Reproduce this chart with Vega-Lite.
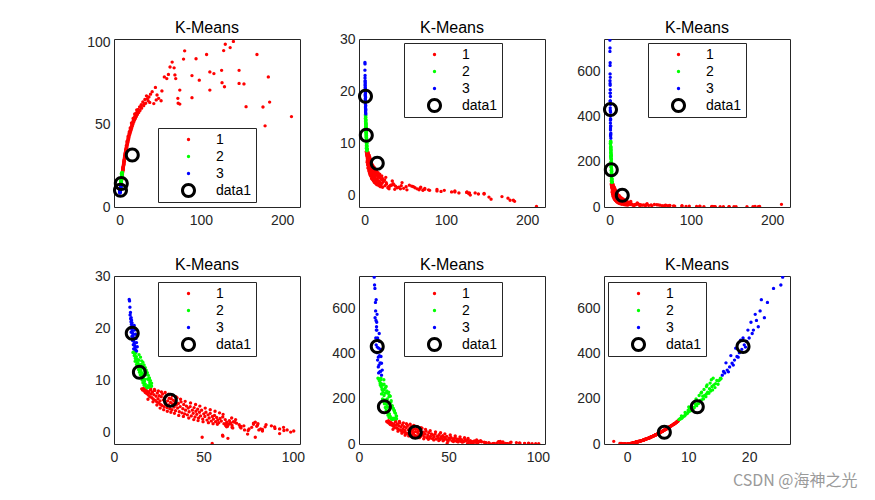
{
"$schema":"https://vega.github.io/schema/vega-lite/v6.json",
"padding":{"left":86,"top":19,"right":5,"bottom":5},
"background":"white",
"bounds":"flush",
"columns":3,
"spacing":{"row":69,"column":59},
"title":{"text":"CSDN @海神之光","orient":"bottom","anchor":"end","color":"#9a9a9a","fontSize":16,"font":"Noto Sans CJK SC","fontWeight":"normal","offset":8,"dx":67},
"config":{
 "font":"Liberation Sans",
 "view":{"stroke":"#262626","strokeWidth":1},
 "axis":{"grid":false,"ticks":false,"domain":false,"labelFontSize":14,"labelFont":"Liberation Sans","labelColor":"#262626","labelFlush":false,"labelOverlap":false},
 "axisX":{"labelPadding":6},
 "axisY":{"labelPadding":4},
 "title":{"fontSize":16,"fontWeight":"normal","color":"#000000","offset":3,"font":"Liberation Sans"},
 "legend":{"orient":"none","strokeColor":"#262626","fillColor":"#ffffff","padding":4,"labelFontSize":14,"labelFont":"Liberation Sans","labelColor":"#000000","rowPadding":2,"symbolSize":225,"symbolOffset":19,"labelOffset":20,"symbolStrokeWidth":0,"cornerRadius":0}
},
"datasets":{
"cen":[{"x":15.5,"y":31.5,"z":6.1,"w":52},{"x":2.0,"y":14.2,"z":11.5,"w":165},{"x":1.0,"y":10.2,"z":19.0,"w":432}],
"pts":[
{"x":2.0,"y":15.5,"z":8.3,"w":100,"c":"1"},
{"x":2.3,"y":16.0,"z":8.1,"w":96,"c":"1"},
{"x":2.1,"y":16.5,"z":8.4,"w":104,"c":"1"},
{"x":2.6,"y":16.8,"z":7.9,"w":92,"c":"1"},
{"x":2.4,"y":17.2,"z":8.2,"w":99,"c":"1"},
{"x":2.8,"y":17.5,"z":7.6,"w":86,"c":"1"},
{"x":2.5,"y":18.0,"z":8.0,"w":95,"c":"1"},
{"x":3.0,"y":18.3,"z":7.4,"w":84,"c":"1"},
{"x":2.7,"y":18.8,"z":7.8,"w":90,"c":"1"},
{"x":3.2,"y":19.2,"z":7.1,"w":79,"c":"1"},
{"x":2.9,"y":19.6,"z":7.6,"w":87,"c":"1"},
{"x":3.4,"y":20.0,"z":6.8,"w":73,"c":"1"},
{"x":3.1,"y":20.4,"z":8.1,"w":98,"c":"1"},
{"x":3.6,"y":20.8,"z":7.3,"w":83,"c":"1"},
{"x":3.3,"y":21.2,"z":6.6,"w":70,"c":"1"},
{"x":3.8,"y":21.5,"z":7.7,"w":89,"c":"1"},
{"x":3.5,"y":22.0,"z":6.3,"w":65,"c":"1"},
{"x":4.0,"y":22.3,"z":7.2,"w":80,"c":"1"},
{"x":3.7,"y":22.8,"z":8.0,"w":94,"c":"1"},
{"x":4.2,"y":23.1,"z":6.1,"w":62,"c":"1"},
{"x":3.9,"y":23.5,"z":6.9,"w":76,"c":"1"},
{"x":4.5,"y":23.9,"z":5.8,"w":57,"c":"1"},
{"x":4.1,"y":24.2,"z":7.5,"w":85,"c":"1"},
{"x":4.7,"y":24.6,"z":6.4,"w":66,"c":"1"},
{"x":4.4,"y":25.0,"z":5.6,"w":54,"c":"1"},
{"x":4.9,"y":25.3,"z":7.0,"w":77,"c":"1"},
{"x":4.6,"y":25.7,"z":6.0,"w":60,"c":"1"},
{"x":5.1,"y":26.0,"z":5.3,"w":50,"c":"1"},
{"x":4.8,"y":26.4,"z":6.8,"w":73,"c":"1"},
{"x":5.3,"y":26.8,"z":5.1,"w":47,"c":"1"},
{"x":5.0,"y":27.2,"z":7.3,"w":82,"c":"1"},
{"x":5.6,"y":27.6,"z":6.2,"w":63,"c":"1"},
{"x":5.2,"y":28.0,"z":4.9,"w":44,"c":"1"},
{"x":5.8,"y":28.4,"z":6.6,"w":70,"c":"1"},
{"x":5.5,"y":28.8,"z":5.6,"w":54,"c":"1"},
{"x":6.1,"y":29.2,"z":7.0,"w":77,"c":"1"},
{"x":5.7,"y":29.6,"z":4.7,"w":41,"c":"1"},
{"x":6.3,"y":30.0,"z":6.0,"w":60,"c":"1"},
{"x":6.0,"y":30.4,"z":5.2,"w":48,"c":"1"},
{"x":6.6,"y":30.8,"z":6.5,"w":68,"c":"1"},
{"x":6.2,"y":31.2,"z":4.5,"w":38,"c":"1"},
{"x":6.9,"y":31.6,"z":5.7,"w":55,"c":"1"},
{"x":6.5,"y":32.0,"z":6.4,"w":66,"c":"1"},
{"x":7.2,"y":32.4,"z":4.3,"w":36,"c":"1"},
{"x":6.8,"y":32.8,"z":5.4,"w":51,"c":"1"},
{"x":7.5,"y":33.2,"z":6.1,"w":62,"c":"1"},
{"x":7.1,"y":33.6,"z":4.8,"w":42,"c":"1"},
{"x":7.8,"y":34.0,"z":5.9,"w":59,"c":"1"},
{"x":7.4,"y":34.4,"z":4.1,"w":33,"c":"1"},
{"x":8.1,"y":34.8,"z":5.2,"w":48,"c":"1"},
{"x":7.7,"y":35.2,"z":6.6,"w":70,"c":"1"},
{"x":8.4,"y":35.6,"z":4.6,"w":40,"c":"1"},
{"x":8.0,"y":36.0,"z":5.5,"w":52,"c":"1"},
{"x":8.8,"y":36.5,"z":3.9,"w":31,"c":"1"},
{"x":8.4,"y":37.0,"z":4.9,"w":44,"c":"1"},
{"x":9.3,"y":37.5,"z":5.8,"w":57,"c":"1"},
{"x":8.9,"y":38.0,"z":3.7,"w":28,"c":"1"},
{"x":9.7,"y":38.5,"z":4.5,"w":38,"c":"1"},
{"x":9.2,"y":39.0,"z":5.3,"w":50,"c":"1"},
{"x":10.2,"y":39.5,"z":3.5,"w":26,"c":"1"},
{"x":9.6,"y":40.0,"z":4.2,"w":34,"c":"1"},
{"x":10.6,"y":40.5,"z":5.0,"w":45,"c":"1"},
{"x":10.0,"y":41.0,"z":3.3,"w":24,"c":"1"},
{"x":11.1,"y":41.5,"z":4.6,"w":39,"c":"1"},
{"x":10.5,"y":42.0,"z":3.9,"w":31,"c":"1"},
{"x":11.6,"y":42.6,"z":4.9,"w":44,"c":"1"},
{"x":11.0,"y":43.2,"z":3.1,"w":22,"c":"1"},
{"x":12.2,"y":43.8,"z":4.2,"w":34,"c":"1"},
{"x":11.5,"y":44.3,"z":3.6,"w":27,"c":"1"},
{"x":12.8,"y":44.8,"z":4.7,"w":41,"c":"1"},
{"x":12.1,"y":45.3,"z":2.9,"w":20,"c":"1"},
{"x":13.4,"y":45.8,"z":4.0,"w":32,"c":"1"},
{"x":12.7,"y":46.3,"z":3.4,"w":25,"c":"1"},
{"x":14.0,"y":46.8,"z":4.4,"w":37,"c":"1"},
{"x":13.3,"y":47.3,"z":2.7,"w":18,"c":"1"},
{"x":14.7,"y":47.8,"z":3.8,"w":29,"c":"1"},
{"x":14.0,"y":48.4,"z":3.1,"w":22,"c":"1"},
{"x":15.5,"y":49.0,"z":4.2,"w":34,"c":"1"},
{"x":14.8,"y":49.6,"z":2.5,"w":16,"c":"1"},
{"x":16.3,"y":50.2,"z":3.5,"w":26,"c":"1"},
{"x":15.5,"y":50.8,"z":3.0,"w":21,"c":"1"},
{"x":17.2,"y":51.4,"z":3.8,"w":29,"c":"1"},
{"x":16.3,"y":52.0,"z":2.3,"w":14,"c":"1"},
{"x":18.2,"y":52.6,"z":3.3,"w":24,"c":"1"},
{"x":17.1,"y":53.2,"z":2.7,"w":18,"c":"1"},
{"x":19.3,"y":53.8,"z":3.6,"w":27,"c":"1"},
{"x":18.0,"y":54.4,"z":2.1,"w":13,"c":"1"},
{"x":20.5,"y":55.0,"z":3.0,"w":21,"c":"1"},
{"x":19.0,"y":55.6,"z":2.5,"w":16,"c":"1"},
{"x":21.8,"y":56.2,"z":3.2,"w":23,"c":"1"},
{"x":20.2,"y":56.8,"z":2.0,"w":12,"c":"1"},
{"x":23.4,"y":57.4,"z":2.8,"w":19,"c":"1"},
{"x":21.5,"y":58.0,"z":2.3,"w":14,"c":"1"},
{"x":25.0,"y":58.6,"z":1.8,"w":11,"c":"1"},
{"x":23.0,"y":59.3,"z":2.6,"w":17,"c":"1"},
{"x":27.0,"y":60.0,"z":2.1,"w":13,"c":"1"},
{"x":24.5,"y":60.8,"z":2.9,"w":20,"c":"1"},
{"x":29.5,"y":61.5,"z":1.6,"w":9,"c":"1"},
{"x":26.5,"y":62.2,"z":2.4,"w":15,"c":"1"},
{"x":32.0,"y":63.0,"z":1.9,"w":11,"c":"1"},
{"x":28.5,"y":63.8,"z":1.4,"w":8,"c":"1"},
{"x":35.0,"y":64.5,"z":2.2,"w":14,"c":"1"},
{"x":31.0,"y":65.3,"z":1.7,"w":10,"c":"1"},
{"x":42.0,"y":62.8,"z":1.5,"w":9,"c":"1"},
{"x":45.0,"y":65.0,"z":1.8,"w":10,"c":"1"},
{"x":48.0,"y":66.0,"z":1.3,"w":7,"c":"1"},
{"x":51.0,"y":64.5,"z":1.6,"w":9,"c":"1"},
{"x":44.0,"y":72.6,"z":1.2,"w":6,"c":"1"},
{"x":38.0,"y":68.5,"z":1.7,"w":10,"c":"1"},
{"x":36.0,"y":66.8,"z":2.0,"w":12,"c":"1"},
{"x":40.0,"y":70.0,"z":1.4,"w":8,"c":"1"},
{"x":33.0,"y":67.5,"z":1.9,"w":11,"c":"1"},
{"x":72.0,"y":63.0,"z":1.0,"w":5,"c":"1"},
{"x":74.0,"y":62.5,"z":1.3,"w":7,"c":"1"},
{"x":71.6,"y":66.0,"z":0.9,"w":5,"c":"1"},
{"x":74.0,"y":71.0,"z":1.1,"w":6,"c":"1"},
{"x":89.0,"y":66.4,"z":0.8,"w":4,"c":"1"},
{"x":140,"y":100.5,"z":0.2,"w":1,"c":"1"},
{"x":130,"y":98.8,"z":0.0,"w":1,"c":"1"},
{"x":136,"y":96.8,"z":0.4,"w":2,"c":"1"},
{"x":128,"y":95.0,"z":0.3,"w":1,"c":"1"},
{"x":80,"y":94.8,"z":0.9,"w":4,"c":"1"},
{"x":107,"y":92.6,"z":0.6,"w":3,"c":"1"},
{"x":169,"y":92.6,"z":-0.3,"w":1,"c":"1"},
{"x":78.6,"y":89.8,"z":1.0,"w":5,"c":"1"},
{"x":94,"y":90,"z":0.7,"w":3,"c":"1"},
{"x":64.6,"y":88,"z":1.2,"w":6,"c":"1"},
{"x":62,"y":85,"z":1.4,"w":8,"c":"1"},
{"x":67,"y":84.5,"z":1.0,"w":5,"c":"1"},
{"x":60,"y":80.5,"z":1.6,"w":9,"c":"1"},
{"x":68,"y":80.2,"z":1.3,"w":7,"c":"1"},
{"x":125.5,"y":83,"z":0.5,"w":2,"c":"1"},
{"x":147,"y":83,"z":0.2,"w":1,"c":"1"},
{"x":111,"y":82,"z":0.6,"w":3,"c":"1"},
{"x":116,"y":81,"z":0.4,"w":2,"c":"1"},
{"x":183,"y":79,"z":-1.0,"w":2,"c":"1"},
{"x":89,"y":79.8,"z":1.1,"w":6,"c":"1"},
{"x":98,"y":77,"z":0.9,"w":4,"c":"1"},
{"x":69,"y":78,"z":1.5,"w":8,"c":"1"},
{"x":55,"y":79,"z":1.9,"w":11,"c":"1"},
{"x":58,"y":78,"z":1.7,"w":10,"c":"1"},
{"x":147,"y":75,"z":0.3,"w":1,"c":"1"},
{"x":126,"y":75.5,"z":0.6,"w":3,"c":"1"},
{"x":129,"y":73,"z":0.4,"w":2,"c":"1"},
{"x":153,"y":74.7,"z":-0.4,"w":1,"c":"1"},
{"x":111,"y":71,"z":0.8,"w":4,"c":"1"},
{"x":211.5,"y":54.9,"z":-2.2,"w":12,"c":"1"},
{"x":179,"y":49.3,"z":-1.0,"w":3,"c":"1"},
{"x":176.4,"y":60.7,"z":-0.6,"w":1,"c":"1"},
{"x":155.6,"y":60.9,"z":-0.8,"w":2,"c":"1"},
{"x":184.6,"y":63.7,"z":-1.2,"w":3,"c":"1"},
{"x":3.0,"y":19.0,"z":6.3,"w":65,"c":"1"},
{"x":3.3,"y":20.5,"z":8.3,"w":102,"c":"1"},
{"x":3.6,"y":21.8,"z":5.8,"w":57,"c":"1"},
{"x":4.3,"y":22.6,"z":8.2,"w":100,"c":"1"},
{"x":4.0,"y":24.0,"z":5.2,"w":48,"c":"1"},
{"x":4.6,"y":24.8,"z":7.9,"w":94,"c":"1"},
{"x":5.2,"y":25.8,"z":4.6,"w":39,"c":"1"},
{"x":5.0,"y":26.5,"z":7.7,"w":90,"c":"1"},
{"x":5.9,"y":27.8,"z":4.3,"w":36,"c":"1"},
{"x":5.6,"y":28.6,"z":7.6,"w":88,"c":"1"},
{"x":6.4,"y":29.8,"z":4.0,"w":32,"c":"1"},
{"x":6.2,"y":30.6,"z":7.3,"w":82,"c":"1"},
{"x":7.0,"y":31.8,"z":3.8,"w":30,"c":"1"},
{"x":6.8,"y":32.6,"z":7.0,"w":77,"c":"1"},
{"x":7.6,"y":33.8,"z":3.6,"w":28,"c":"1"},
{"x":7.4,"y":34.6,"z":6.8,"w":73,"c":"1"},
{"x":8.5,"y":36.2,"z":3.2,"w":23,"c":"1"},
{"x":8.2,"y":37.2,"z":6.3,"w":65,"c":"1"},
{"x":9.5,"y":38.8,"z":3.0,"w":21,"c":"1"},
{"x":9.0,"y":39.8,"z":5.9,"w":59,"c":"1"},
{"x":10.8,"y":41.8,"z":2.7,"w":18,"c":"1"},
{"x":10.3,"y":42.8,"z":5.6,"w":54,"c":"1"},
{"x":12.0,"y":44.6,"z":2.4,"w":15,"c":"1"},
{"x":11.8,"y":45.6,"z":5.3,"w":50,"c":"1"},
{"x":13.6,"y":47.0,"z":2.2,"w":14,"c":"1"},
{"x":13.0,"y":48.0,"z":5.0,"w":45,"c":"1"},
{"x":15.0,"y":49.8,"z":2.0,"w":12,"c":"1"},
{"x":14.5,"y":51.0,"z":4.6,"w":40,"c":"1"},
{"x":17.5,"y":52.8,"z":1.8,"w":11,"c":"1"},
{"x":16.5,"y":53.8,"z":4.3,"w":36,"c":"1"},
{"x":19.5,"y":55.4,"z":1.6,"w":9,"c":"1"},
{"x":18.5,"y":56.5,"z":4.0,"w":32,"c":"1"},
{"x":22.0,"y":57.8,"z":1.5,"w":8,"c":"1"},
{"x":21.0,"y":59.0,"z":3.7,"w":28,"c":"1"},
{"x":26.0,"y":61.0,"z":3.4,"w":25,"c":"1"},
{"x":30.0,"y":62.6,"z":1.2,"w":6,"c":"1"},
{"x":34.0,"y":65.8,"z":2.7,"w":18,"c":"1"},
{"x":37.0,"y":63.5,"z":1.1,"w":6,"c":"1"},
{"x":46.0,"y":68.0,"z":2.4,"w":15,"c":"1"},
{"x":52.0,"y":70.5,"z":1.0,"w":5,"c":"1"},
{"x":0.9,"y":11.0,"z":15.4,"w":290,"c":"2"},
{"x":1.1,"y":12.2,"z":15.2,"w":285,"c":"2"},
{"x":1.0,"y":11.6,"z":15.0,"w":280,"c":"2"},
{"x":1.5,"y":14.0,"z":14.9,"w":265,"c":"2"},
{"x":0.8,"y":11.3,"z":14.7,"w":282,"c":"2"},
{"x":1.3,"y":12.5,"z":14.5,"w":268,"c":"2"},
{"x":1.7,"y":14.8,"z":14.4,"w":250,"c":"2"},
{"x":1.0,"y":11.9,"z":14.2,"w":262,"c":"2"},
{"x":1.3,"y":13.0,"z":14.0,"w":240,"c":"2"},
{"x":1.2,"y":12.4,"z":13.9,"w":255,"c":"2"},
{"x":1.8,"y":15.5,"z":13.7,"w":235,"c":"2"},
{"x":1.4,"y":12.9,"z":13.5,"w":245,"c":"2"},
{"x":1.9,"y":16.2,"z":13.4,"w":225,"c":"2"},
{"x":1.5,"y":13.5,"z":13.2,"w":230,"c":"2"},
{"x":1.3,"y":12.6,"z":13.0,"w":222,"c":"2"},
{"x":2.0,"y":16.8,"z":12.9,"w":210,"c":"2"},
{"x":1.6,"y":14.0,"z":12.7,"w":215,"c":"2"},
{"x":1.5,"y":13.2,"z":12.5,"w":200,"c":"2"},
{"x":2.1,"y":17.5,"z":12.4,"w":212,"c":"2"},
{"x":1.7,"y":14.5,"z":12.2,"w":196,"c":"2"},
{"x":1.6,"y":13.7,"z":12.0,"w":188,"c":"2"},
{"x":2.2,"y":18.0,"z":11.9,"w":192,"c":"2"},
{"x":1.8,"y":15.0,"z":11.7,"w":180,"c":"2"},
{"x":1.7,"y":14.2,"z":11.5,"w":178,"c":"2"},
{"x":2.3,"y":18.6,"z":11.4,"w":170,"c":"2"},
{"x":1.9,"y":15.5,"z":11.2,"w":175,"c":"2"},
{"x":1.8,"y":14.7,"z":11.0,"w":162,"c":"2"},
{"x":2.5,"y":19.2,"z":10.9,"w":158,"c":"2"},
{"x":2.1,"y":16.0,"z":10.7,"w":163,"c":"2"},
{"x":1.9,"y":15.2,"z":10.5,"w":150,"c":"2"},
{"x":2.6,"y":19.8,"z":10.4,"w":148,"c":"2"},
{"x":2.2,"y":16.5,"z":10.2,"w":145,"c":"2"},
{"x":2.0,"y":15.7,"z":10.0,"w":142,"c":"2"},
{"x":2.8,"y":20.4,"z":9.9,"w":136,"c":"2"},
{"x":2.3,"y":17.0,"z":9.7,"w":133,"c":"2"},
{"x":2.1,"y":16.2,"z":9.5,"w":128,"c":"2"},
{"x":2.9,"y":21.0,"z":9.4,"w":124,"c":"2"},
{"x":2.4,"y":17.5,"z":9.2,"w":122,"c":"2"},
{"x":2.3,"y":16.8,"z":9.0,"w":118,"c":"2"},
{"x":2.8,"y":19.0,"z":8.9,"w":115,"c":"2"},
{"x":2.6,"y":18.0,"z":8.7,"w":112,"c":"2"},
{"x":2.9,"y":19.6,"z":8.6,"w":110,"c":"2"},
{"x":2.7,"y":18.6,"z":8.5,"w":109,"c":"2"},
{"x":1.3,"y":10.6,"z":15.3,"w":292,"c":"2"},
{"x":2.0,"y":20.2,"z":9.0,"w":115,"c":"2"},
{"x":3.2,"y":21.0,"z":8.8,"w":112,"c":"2"},
{"x":1.4,"y":13.4,"z":13.1,"w":262,"c":"2"},
{"x":1.6,"y":14.1,"z":12.6,"w":242,"c":"2"},
{"x":1.2,"y":12.3,"z":14.1,"w":292,"c":"2"},
{"x":1.7,"y":14.8,"z":12.1,"w":226,"c":"2"},
{"x":2.0,"y":15.8,"z":11.3,"w":200,"c":"2"},
{"x":2.4,"y":17.2,"z":10.1,"w":165,"c":"2"},
{"x":1.2,"y":11.8,"z":13.6,"w":270,"c":"2"},
{"x":2.4,"y":18.8,"z":10.2,"w":160,"c":"2"},
{"x":2.2,"y":17.8,"z":11.0,"w":185,"c":"2"},
{"x":1.9,"y":16.6,"z":12.2,"w":230,"c":"2"},
{"x":2.6,"y":20.0,"z":9.5,"w":140,"c":"2"},
{"x":1.5,"y":13.9,"z":13.8,"w":285,"c":"2"},
{"x":2.8,"y":20.8,"z":8.9,"w":125,"c":"2"},
{"x":2.0,"y":17.0,"z":11.8,"w":215,"c":"2"},
{"x":1.7,"y":15.2,"z":13.0,"w":255,"c":"2"},
{"x":2.5,"y":19.5,"z":10.0,"w":150,"c":"2"},
{"x":0.3,"y":8.5,"z":25.5,"w":740,"c":"3"},
{"x":0.4,"y":8.7,"z":25.2,"w":705,"c":"3"},
{"x":0.3,"y":8.9,"z":24.0,"w":690,"c":"3"},
{"x":0.5,"y":9.2,"z":23.0,"w":628,"c":"3"},
{"x":0.4,"y":9.0,"z":22.5,"w":560,"c":"3"},
{"x":0.6,"y":9.6,"z":22.0,"w":640,"c":"3"},
{"x":0.5,"y":9.3,"z":21.8,"w":590,"c":"3"},
{"x":0.7,"y":9.8,"z":21.5,"w":520,"c":"3"},
{"x":0.5,"y":9.5,"z":21.2,"w":548,"c":"3"},
{"x":0.7,"y":10.1,"z":21.0,"w":575,"c":"3"},
{"x":0.6,"y":9.7,"z":20.7,"w":505,"c":"3"},
{"x":0.9,"y":11.3,"z":20.5,"w":490,"c":"3"},
{"x":0.6,"y":9.9,"z":20.3,"w":540,"c":"3"},
{"x":0.6,"y":9.4,"z":20.0,"w":470,"c":"3"},
{"x":0.7,"y":10.0,"z":19.8,"w":505,"c":"3"},
{"x":1.0,"y":11.5,"z":19.6,"w":455,"c":"3"},
{"x":0.7,"y":10.2,"z":19.4,"w":430,"c":"3"},
{"x":0.7,"y":9.6,"z":19.2,"w":440,"c":"3"},
{"x":0.8,"y":10.4,"z":19.0,"w":470,"c":"3"},
{"x":1.1,"y":12.0,"z":18.8,"w":420,"c":"3"},
{"x":0.8,"y":10.6,"z":18.6,"w":460,"c":"3"},
{"x":0.8,"y":10.0,"z":18.4,"w":405,"c":"3"},
{"x":0.9,"y":10.8,"z":18.2,"w":385,"c":"3"},
{"x":1.2,"y":12.3,"z":18.0,"w":388,"c":"3"},
{"x":0.9,"y":11.0,"z":17.8,"w":425,"c":"3"},
{"x":0.9,"y":10.4,"z":17.6,"w":372,"c":"3"},
{"x":1.0,"y":11.2,"z":17.4,"w":350,"c":"3"},
{"x":1.3,"y":12.6,"z":17.2,"w":358,"c":"3"},
{"x":1.0,"y":11.4,"z":17.0,"w":392,"c":"3"},
{"x":1.0,"y":10.8,"z":16.8,"w":342,"c":"3"},
{"x":1.1,"y":11.6,"z":16.6,"w":320,"c":"3"},
{"x":1.4,"y":13.0,"z":16.4,"w":328,"c":"3"},
{"x":1.1,"y":11.8,"z":16.2,"w":360,"c":"3"},
{"x":1.1,"y":11.0,"z":16.0,"w":315,"c":"3"},
{"x":1.2,"y":12.0,"z":15.8,"w":322,"c":"3"},
{"x":1.4,"y":12.6,"z":15.6,"w":305,"c":"3"}
]
},
"resolve":{"scale":{"color":"independent","shape":"independent"},"legend":{"color":"independent","shape":"independent"}},
"concat":[
 {"width":186,"height":168,"title":{"text":"K-Means","offset":-1},"layer":[
  {"data":{"name":"pts"},"mark":{"type":"point","filled":true,"size":225,"opacity":1,"clip":true},
   "encoding":{
    "x":{"field":"x","type":"quantitative","title":null,"scale":{"domain":[-7,222],"nice":false,"zero":false},"axis":{"values":[0,100,200]}},
    "y":{"field":"y","type":"quantitative","title":null,"scale":{"domain":[0,102],"nice":false,"zero":false},"axis":{"values":[0,50,100]}},
    "color":{"field":"c","type":"nominal","scale":{"domain":["1","2","3","data1"],"range":["#ff0000","#00ff00","#0000ff","#000000"]},"legend":{"title":null,"legendX":44,"legendY":89}},
    "shape":{"field":"c","type":"nominal","scale":{"domain":["1","2","3","data1"],"range":["M-0.22,0A0.22,0.22,0,1,0,0.22,0A0.22,0.22,0,1,0,-0.22,0Z","M-0.22,0A0.22,0.22,0,1,0,0.22,0A0.22,0.22,0,1,0,-0.22,0Z","M-0.22,0A0.22,0.22,0,1,0,0.22,0A0.22,0.22,0,1,0,-0.22,0Z","M-1,0A1,1,0,1,0,1,0A1,1,0,1,0,-1,0ZM-0.6,0A0.6,0.6,0,1,1,0.6,0A0.6,0.6,0,1,1,-0.6,0Z"]},"legend":{"title":null,"legendX":44,"legendY":89}}}},
  {"data":{"name":"cen"},"mark":{"type":"point","filled":true,"size":225,"opacity":1},
   "encoding":{
    "x":{"field":"x","type":"quantitative","title":null,"scale":{"domain":[-7,222],"nice":false,"zero":false}},
    "y":{"field":"y","type":"quantitative","title":null,"scale":{"domain":[0,102],"nice":false,"zero":false}},
    "color":{"datum":"data1","type":"nominal"},
    "shape":{"datum":"data1","type":"nominal"}}}
 ]},
 {"width":186,"height":168,"title":{"text":"K-Means","offset":-4},"layer":[
  {"data":{"name":"pts"},"mark":{"type":"point","filled":true,"size":225,"opacity":1,"clip":true},
   "encoding":{
    "x":{"field":"x","type":"quantitative","title":null,"scale":{"domain":[-7,222],"nice":false,"zero":false},"axis":{"values":[0,100,200]}},
    "y":{"field":"z","type":"quantitative","title":null,"scale":{"domain":[-2.3,30],"nice":false,"zero":false},"axis":{"values":[0,10,20,30]}},
    "color":{"field":"c","type":"nominal","scale":{"domain":["1","2","3","data1"],"range":["#ff0000","#00ff00","#0000ff","#000000"]},"legend":{"title":null,"legendX":45,"legendY":4}},
    "shape":{"field":"c","type":"nominal","scale":{"domain":["1","2","3","data1"],"range":["M-0.22,0A0.22,0.22,0,1,0,0.22,0A0.22,0.22,0,1,0,-0.22,0Z","M-0.22,0A0.22,0.22,0,1,0,0.22,0A0.22,0.22,0,1,0,-0.22,0Z","M-0.22,0A0.22,0.22,0,1,0,0.22,0A0.22,0.22,0,1,0,-0.22,0Z","M-1,0A1,1,0,1,0,1,0A1,1,0,1,0,-1,0ZM-0.6,0A0.6,0.6,0,1,1,0.6,0A0.6,0.6,0,1,1,-0.6,0Z"]},"legend":{"title":null,"legendX":45,"legendY":4}}}},
  {"data":{"name":"cen"},"mark":{"type":"point","filled":true,"size":225,"opacity":1},
   "encoding":{
    "x":{"field":"x","type":"quantitative","title":null,"scale":{"domain":[-7,222],"nice":false,"zero":false}},
    "y":{"field":"z","type":"quantitative","title":null,"scale":{"domain":[-2.3,30],"nice":false,"zero":false}},
    "color":{"datum":"data1","type":"nominal"},
    "shape":{"datum":"data1","type":"nominal"}}}
 ]},
 {"width":186,"height":168,"title":{"text":"K-Means","offset":3},"layer":[
  {"data":{"name":"pts"},"mark":{"type":"point","filled":true,"size":225,"opacity":1,"clip":true},
   "encoding":{
    "x":{"field":"x","type":"quantitative","title":null,"scale":{"domain":[-7,222],"nice":false,"zero":false},"axis":{"values":[0,100,200]}},
    "y":{"field":"w","type":"quantitative","title":null,"scale":{"domain":[0,745],"nice":false,"zero":false},"axis":{"values":[0,200,400,600]}},
    "color":{"field":"c","type":"nominal","scale":{"domain":["1","2","3","data1"],"range":["#ff0000","#00ff00","#0000ff","#000000"]},"legend":{"title":null,"legendX":44,"legendY":4}},
    "shape":{"field":"c","type":"nominal","scale":{"domain":["1","2","3","data1"],"range":["M-0.22,0A0.22,0.22,0,1,0,0.22,0A0.22,0.22,0,1,0,-0.22,0Z","M-0.22,0A0.22,0.22,0,1,0,0.22,0A0.22,0.22,0,1,0,-0.22,0Z","M-0.22,0A0.22,0.22,0,1,0,0.22,0A0.22,0.22,0,1,0,-0.22,0Z","M-1,0A1,1,0,1,0,1,0A1,1,0,1,0,-1,0ZM-0.6,0A0.6,0.6,0,1,1,0.6,0A0.6,0.6,0,1,1,-0.6,0Z"]},"legend":{"title":null,"legendX":44,"legendY":4}}}},
  {"data":{"name":"cen"},"mark":{"type":"point","filled":true,"size":225,"opacity":1},
   "encoding":{
    "x":{"field":"x","type":"quantitative","title":null,"scale":{"domain":[-7,222],"nice":false,"zero":false}},
    "y":{"field":"w","type":"quantitative","title":null,"scale":{"domain":[0,745],"nice":false,"zero":false}},
    "color":{"datum":"data1","type":"nominal"},
    "shape":{"datum":"data1","type":"nominal"}}}
 ]},
 {"width":186,"height":168,"title":{"text":"K-Means","offset":-4},"layer":[
  {"data":{"name":"pts"},"mark":{"type":"point","filled":true,"size":225,"opacity":1,"clip":true},
   "encoding":{
    "x":{"field":"y","type":"quantitative","title":null,"scale":{"domain":[0,104],"nice":false,"zero":false},"axis":{"values":[0,50,100]}},
    "y":{"field":"z","type":"quantitative","title":null,"scale":{"domain":[-2.3,30],"nice":false,"zero":false},"axis":{"values":[0,10,20,30]}},
    "color":{"field":"c","type":"nominal","scale":{"domain":["1","2","3","data1"],"range":["#ff0000","#00ff00","#0000ff","#000000"]},"legend":{"title":null,"legendX":44,"legendY":6}},
    "shape":{"field":"c","type":"nominal","scale":{"domain":["1","2","3","data1"],"range":["M-0.22,0A0.22,0.22,0,1,0,0.22,0A0.22,0.22,0,1,0,-0.22,0Z","M-0.22,0A0.22,0.22,0,1,0,0.22,0A0.22,0.22,0,1,0,-0.22,0Z","M-0.22,0A0.22,0.22,0,1,0,0.22,0A0.22,0.22,0,1,0,-0.22,0Z","M-1,0A1,1,0,1,0,1,0A1,1,0,1,0,-1,0ZM-0.6,0A0.6,0.6,0,1,1,0.6,0A0.6,0.6,0,1,1,-0.6,0Z"]},"legend":{"title":null,"legendX":44,"legendY":6}}}},
  {"data":{"name":"cen"},"mark":{"type":"point","filled":true,"size":225,"opacity":1},
   "encoding":{
    "x":{"field":"y","type":"quantitative","title":null,"scale":{"domain":[0,104],"nice":false,"zero":false}},
    "y":{"field":"z","type":"quantitative","title":null,"scale":{"domain":[-2.3,30],"nice":false,"zero":false}},
    "color":{"datum":"data1","type":"nominal"},
    "shape":{"datum":"data1","type":"nominal"}}}
 ]},
 {"width":186,"height":168,"title":{"text":"K-Means","offset":3},"layer":[
  {"data":{"name":"pts"},"mark":{"type":"point","filled":true,"size":225,"opacity":1,"clip":true},
   "encoding":{
    "x":{"field":"y","type":"quantitative","title":null,"scale":{"domain":[0,104],"nice":false,"zero":false},"axis":{"values":[0,50,100]}},
    "y":{"field":"w","type":"quantitative","title":null,"scale":{"domain":[0,745],"nice":false,"zero":false},"axis":{"values":[0,200,400,600]}},
    "color":{"field":"c","type":"nominal","scale":{"domain":["1","2","3","data1"],"range":["#ff0000","#00ff00","#0000ff","#000000"]},"legend":{"title":null,"legendX":45,"legendY":6}},
    "shape":{"field":"c","type":"nominal","scale":{"domain":["1","2","3","data1"],"range":["M-0.22,0A0.22,0.22,0,1,0,0.22,0A0.22,0.22,0,1,0,-0.22,0Z","M-0.22,0A0.22,0.22,0,1,0,0.22,0A0.22,0.22,0,1,0,-0.22,0Z","M-0.22,0A0.22,0.22,0,1,0,0.22,0A0.22,0.22,0,1,0,-0.22,0Z","M-1,0A1,1,0,1,0,1,0A1,1,0,1,0,-1,0ZM-0.6,0A0.6,0.6,0,1,1,0.6,0A0.6,0.6,0,1,1,-0.6,0Z"]},"legend":{"title":null,"legendX":45,"legendY":6}}}},
  {"data":{"name":"cen"},"mark":{"type":"point","filled":true,"size":225,"opacity":1},
   "encoding":{
    "x":{"field":"y","type":"quantitative","title":null,"scale":{"domain":[0,104],"nice":false,"zero":false}},
    "y":{"field":"w","type":"quantitative","title":null,"scale":{"domain":[0,745],"nice":false,"zero":false}},
    "color":{"datum":"data1","type":"nominal"},
    "shape":{"datum":"data1","type":"nominal"}}}
 ]},
 {"width":186,"height":168,"title":{"text":"K-Means","offset":3},"layer":[
  {"data":{"name":"pts"},"mark":{"type":"point","filled":true,"size":225,"opacity":1,"clip":true},
   "encoding":{
    "x":{"field":"z","type":"quantitative","title":null,"scale":{"domain":[-3.8,26.7],"nice":false,"zero":false},"axis":{"values":[0,10,20]}},
    "y":{"field":"w","type":"quantitative","title":null,"scale":{"domain":[0,745],"nice":false,"zero":false},"axis":{"values":[0,200,400,600]}},
    "color":{"field":"c","type":"nominal","scale":{"domain":["1","2","3","data1"],"range":["#ff0000","#00ff00","#0000ff","#000000"]},"legend":{"title":null,"legendX":4,"legendY":6}},
    "shape":{"field":"c","type":"nominal","scale":{"domain":["1","2","3","data1"],"range":["M-0.22,0A0.22,0.22,0,1,0,0.22,0A0.22,0.22,0,1,0,-0.22,0Z","M-0.22,0A0.22,0.22,0,1,0,0.22,0A0.22,0.22,0,1,0,-0.22,0Z","M-0.22,0A0.22,0.22,0,1,0,0.22,0A0.22,0.22,0,1,0,-0.22,0Z","M-1,0A1,1,0,1,0,1,0A1,1,0,1,0,-1,0ZM-0.6,0A0.6,0.6,0,1,1,0.6,0A0.6,0.6,0,1,1,-0.6,0Z"]},"legend":{"title":null,"legendX":4,"legendY":6}}}},
  {"data":{"name":"cen"},"mark":{"type":"point","filled":true,"size":225,"opacity":1},
   "encoding":{
    "x":{"field":"z","type":"quantitative","title":null,"scale":{"domain":[-3.8,26.7],"nice":false,"zero":false}},
    "y":{"field":"w","type":"quantitative","title":null,"scale":{"domain":[0,745],"nice":false,"zero":false}},
    "color":{"datum":"data1","type":"nominal"},
    "shape":{"datum":"data1","type":"nominal"}}}
 ]}
]
}
